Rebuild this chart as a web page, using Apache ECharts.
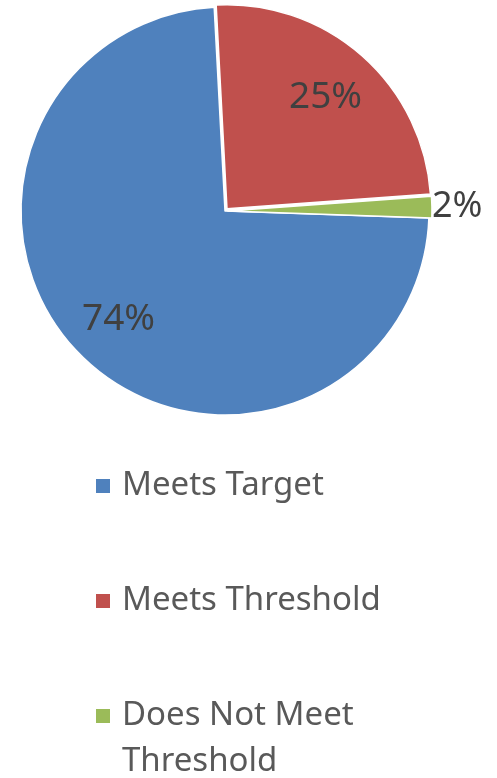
<!DOCTYPE html>
<html>
<head>
<meta charset="utf-8">
<script src="https://cdn.jsdelivr.net/npm/echarts@6/dist/echarts.min.js"></script>
<style>
  html, body { margin: 0; padding: 0; background: #fff; }
  #chart { width: 497px; height: 778px; }
</style>
</head>
<body>
<div id="chart"></div>
<script>
  // data
  var categories = ['Meets Target', 'Meets Threshold', 'Does Not Meet Threshold'];
  var legendLabels = ['Meets Target', 'Meets Threshold', 'Does Not Meet\nThreshold'];
  var values = [73.6, 24.7, 1.7];
  var colors = ['#4F81BD', '#C0504D', '#9BBB59'];
  var exploded = [false, true, true];
  var labelInside = [true, true, false];

  var chart = echarts.init(document.getElementById('chart'));
  var font = '"Noto Sans", sans-serif';

  function pct(p) {
    return Math.round(p.percent) + '%';
  }

  var mainData = categories.map(function (name, i) {
    return {
      name: name,
      value: values[i],
      selected: exploded[i],
      itemStyle: { color: colors[i] },
      label: { show: !labelInside[i] }
    };
  });

  var labelData = categories.map(function (name, i) {
    return {
      name: name,
      value: values[i],
      label: { show: labelInside[i] }
    };
  });

  // one legend per item so the wrapped item keeps its marker on the first line
  var iconCenters = [486, 601, 716];
  var lh = 46;
  var legends = categories.map(function (name, i) {
    var extra = (legendLabels[i].split('\n').length - 1) * lh;
    return {
      data: [name],
      orient: 'vertical',
      left: 94,
      top: iconCenters[i] - lh / 2 - extra,
      padding: 0,
      icon: 'rect',
      itemWidth: 16,
      itemHeight: 16,
      selectedMode: false,
      formatter: function (n) {
        var t = legendLabels[categories.indexOf(n)];
        var blank = '';
        for (var k = 1; k < t.split('\n').length; k++) blank += '\n';
        return blank + t;
      },
      textStyle: {
        color: '#595959',
        fontSize: 33,
        fontFamily: font,
        lineHeight: lh,
        padding: [0, 0, 0, 6]
      }
    };
  });

  var option = {
    animation: false,
    legend: legends,
    series: [
      {
        type: 'pie',
        center: [225, 211],
        radius: [0, 204],
        startAngle: -2,
        clockwise: true,
        selectedMode: 'multiple',
        selectedOffset: 3,
        silent: true,
        itemStyle: { borderColor: '#fff', borderWidth: 1.5 },
        label: {
          position: 'outside',
          formatter: pct,
          color: '#404040',
          fontSize: 36,
          fontFamily: font,
          distanceToLabelLine: 0
        },
        labelLine: { show: false, length: 0, length2: 0 },
        data: mainData
      },
      {
        // transparent copy, used only to place the inside labels further out
        type: 'pie',
        z: 5,
        center: [225, 211],
        radius: [0, 298],
        startAngle: -2,
        clockwise: true,
        silent: true,
        legendHoverLink: false,
        itemStyle: { color: 'rgba(0,0,0,0)' },
        label: {
          position: 'inside',
          formatter: pct,
          color: '#404040',
          fontSize: 37,
          fontFamily: font
        },
        labelLine: { show: false },
        data: labelData
      }
    ]
  };

  chart.setOption(option);
</script>
</body>
</html>
